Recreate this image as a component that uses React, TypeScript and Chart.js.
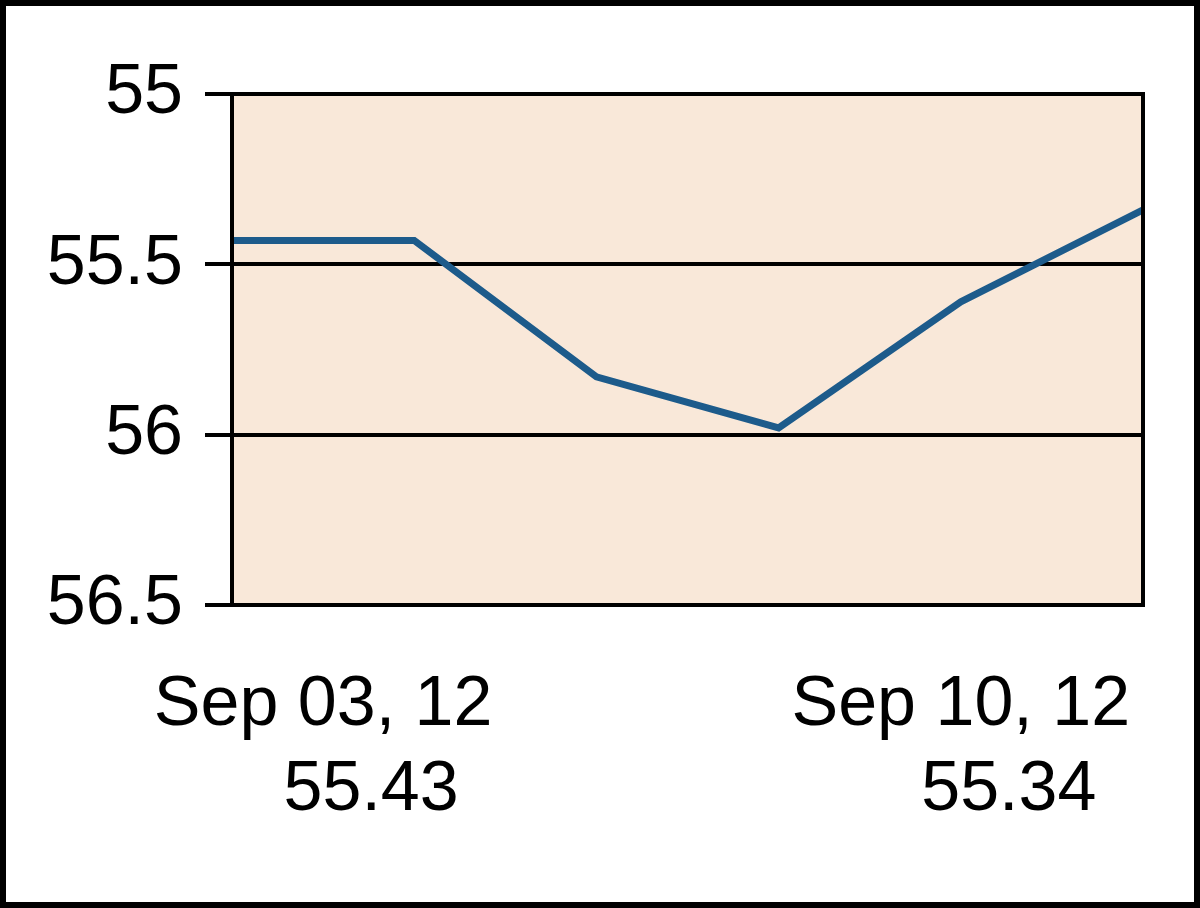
import React, { useEffect, useRef } from 'react';
import { Chart, registerables } from 'chart.js';

Chart.register(...registerables);

// Trading days shown on the chart
const dates = ['Sep 03, 12', 'Sep 04, 12', 'Sep 05, 12', 'Sep 06, 12', 'Sep 07, 12', 'Sep 10, 12'];
// Closing values
const prices = [55.43, 55.43, 55.83, 55.98, 55.61, 55.34];
// Y axis ticks (axis is reversed)
const yTicks = [55, 55.5, 56, 56.5];
// Bottom labels: date + value, anchored at fractional category positions
const axisLabelDates = ['Sep 03, 12', 'Sep 10, 12'];
const axisLabelValues = ['55.43', '55.34'];
const axisLabelIndex = [0.5, 4];

const FONT = '"Liberation Sans", Arial, sans-serif';
const LINE_COLOR = '#1d5b8b';
const PLOT_BG = '#f9e8d9';

export default function App() {
  const ref = useRef<HTMLCanvasElement>(null);

  useEffect(() => {
    document.body.style.margin = '0';
    const canvas = ref.current;
    if (!canvas) return;

    const framePlugin = {
      id: 'framePlugin',
      beforeDraw(chart: any) {
        const { ctx, chartArea: a } = chart;
        ctx.save();
        ctx.fillStyle = '#ffffff';
        ctx.fillRect(0, 0, chart.width, chart.height);
        ctx.fillStyle = PLOT_BG;
        ctx.fillRect(a.left, a.top, a.right - a.left, a.bottom - a.top);
        ctx.restore();
      },
      afterDraw(chart: any) {
        const { ctx, chartArea: a } = chart;
        const x = chart.scales.x;
        ctx.save();
        ctx.strokeStyle = '#000000';
        ctx.lineWidth = 4;
        ctx.strokeRect(a.left, a.top, a.right - a.left, a.bottom - a.top);
        ctx.fillStyle = '#000000';
        ctx.font = `70px ${FONT}`;
        ctx.textAlign = 'center';
        ctx.textBaseline = 'alphabetic';
        axisLabelDates.forEach((d, i) => {
          const px = x.getPixelForValue(axisLabelIndex[i]);
          ctx.fillText(d, px, a.bottom + 120);
          ctx.fillText(axisLabelValues[i], px + 48, a.bottom + 205);
        });
        ctx.restore();
      },
    };

    const chart = new Chart(canvas, {
      type: 'line',
      data: {
        labels: dates,
        datasets: [
          {
            data: prices,
            borderColor: LINE_COLOR,
            borderWidth: 7,
            pointRadius: 0,
            tension: 0,
            fill: false,
          },
        ],
      },
      options: {
        responsive: false,
        animation: false,
        layout: { padding: { left: 0, top: 94, right: 57, bottom: 303 } },
        plugins: { legend: { display: false }, tooltip: { enabled: false } },
        scales: {
          x: { display: false },
          y: {
            reverse: true,
            min: 55,
            max: 56.5,
            afterFit(scale: any) {
              scale.width = 232;
            },
            afterBuildTicks(scale: any) {
              scale.ticks = yTicks.map((v) => ({ value: v }));
            },
            ticks: {
              color: '#000000',
              font: { family: FONT, size: 70 },
              padding: 22,
              callback: (v: any) => String(v),
            },
            grid: {
              color: '#000000',
              lineWidth: 4,
              tickLength: 27,
              drawTicks: true,
            },
            border: { display: true, color: '#000000', width: 4 },
          },
        },
      },
      plugins: [framePlugin],
    });

    return () => chart.destroy();
  }, []);

  return (
    <div style={{ position: 'relative', width: 1200, height: 908 }}>
      <canvas ref={ref} width={1200} height={908} style={{ display: 'block' }} />
      <div
        style={{
          position: 'absolute',
          left: 0,
          top: 0,
          width: 1200,
          height: 908,
          boxSizing: 'border-box',
          border: '6px solid #000',
          pointerEvents: 'none',
        }}
      />
    </div>
  );
}
